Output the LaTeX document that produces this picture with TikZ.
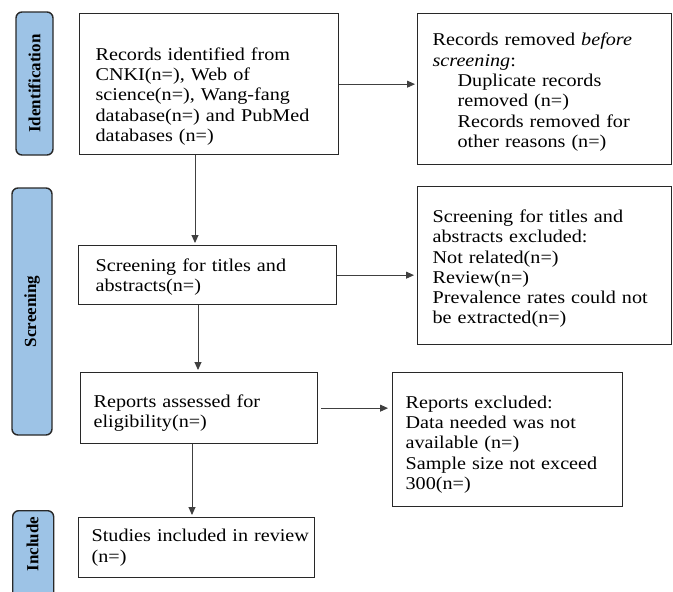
\documentclass[tikz,border=0pt]{standalone}
\usepackage{fontspec}
\setmainfont{Liberation Serif}
\newfontfamily\bodyfont[FakeStretch=1.12]{Liberation Serif}
\usetikzlibrary{arrows.meta,calc}
\definecolor{barblue}{RGB}{157,195,230}
\definecolor{edgecol}{RGB}{40,40,40}
\newcommand\topgap[1]{\rule{0pt}{#1}}
\begin{document}
\begin{tikzpicture}[x=1pt,y=-1pt,
  box/.style={draw=edgecol,line width=1.3pt,anchor=north west,inner xsep=15pt,inner ysep=0pt,
    align=left,font=\bodyfont\fontsize{18}{20.3}\selectfont},
  bar/.style={draw=edgecol,fill=barblue,line width=1.4pt,rounded corners=6pt},
  bartext/.style={font=\fontsize{17}{20}\selectfont\bfseries,rotate=90},
  arr/.style={draw=black!75,line width=0.9pt,-{Triangle[length=8pt,width=7pt]},shorten >=2pt}]
\useasboundingbox (0,0) rectangle (673,592);
\clip (0,0) rectangle (673,592);

% side bars
\node[bar,bartext,minimum width=143pt,minimum height=37pt] (idbar) at (34.5,83.5) {Identification};
\node[bar,bartext,minimum width=247pt,minimum height=40pt] (scrbar) at (32,311.5) {Screening};
\node[bar,anchor=north west,minimum width=41pt,minimum height=95pt] (incbar) at (12,510) {};
\node[bartext] (inctext) at (32.5,544) {Include};

% boxes
\node[box,minimum width=259pt,minimum height=141pt,inner xsep=16pt,text width=227pt] (records) at (79,13)
  {\topgap{37pt}Records identified from\\CNKI(n=), Web of\\science(n=), Wang-fang\\database(n=) and PubMed\\databases (n=)};
\node[box,minimum width=254pt,minimum height=151pt,text width=224pt] (removed) at (417,13)
  {\topgap{19pt}Records removed \textit{before}\\\textit{screening}:\\
   \hspace*{25pt}Duplicate records\\\hspace*{25pt}removed (n=)\\
   \hspace*{25pt}Records removed for\\\hspace*{25pt}other reasons (n=)};
\node[box,minimum width=258pt,minimum height=59pt,inner xsep=17pt,text width=224pt] (screen) at (78,245)
  {\topgap{17pt}Screening for titles and\\abstracts(n=)};
\node[box,minimum width=254pt,minimum height=158pt,text width=224pt] (screenexc) at (417,186)
  {\topgap{19pt}Screening for titles and\\abstracts excluded:\\Not related(n=)\\Review(n=)\\Prevalence rates could not\\be extracted(n=)};
\node[box,minimum width=237pt,minimum height=71pt,inner xsep=13pt,text width=211pt] (reports) at (80,372)
  {\topgap{22pt}Reports assessed for\\eligibility(n=)};
\node[box,minimum width=230pt,minimum height=134pt,inner xsep=13pt,text width=204pt] (repexc) at (392,372)
  {\topgap{22pt}Reports excluded:\\Data needed was not\\available (n=)\\Sample size not exceed\\300(n=)};
\node[box,minimum width=236pt,minimum height=60pt,inner xsep=13pt,text width=210pt] (studies) at (78,517)
  {\mbox{Studies included in review}\\(n=)};

% connectors
\coordinate (c1) at ([xshift=116pt]records.south west);
\coordinate (c2) at ([xshift=120pt]screen.south west);
\coordinate (c3) at ([xshift=112pt]reports.south west);
\draw[arr] (records.east) -- (records.east -| removed.west);
\draw[arr] (c1) -- (c1 |- screen.north);
\draw[arr,shorten >=3pt] (screen.east) -- (screen.east -| screenexc.west);
\draw[arr] (c2) -- (c2 |- reports.north);
\draw[arr,shorten <=3pt,shorten >=4pt] (reports.east) -- (reports.east -| repexc.west);
\draw[arr] (c3) -- (c3 |- studies.north);
\end{tikzpicture}
\end{document}
